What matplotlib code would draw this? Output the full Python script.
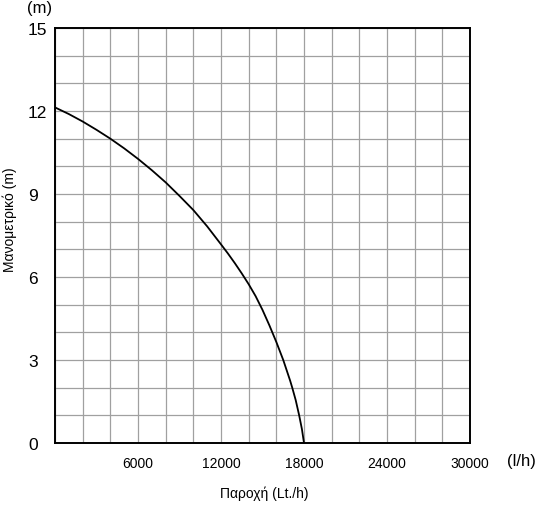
import matplotlib
matplotlib.use("Agg")
import matplotlib.pyplot as plt
import numpy as np

flow = [0, 1000, 2000, 3000, 4000, 5000, 6000, 7000, 8000, 9000, 10000, 11000, 12000,
        12500, 13000, 13500, 14000, 14500, 15000, 15500, 16000, 16500, 17000, 17150,
        17400, 17650, 17850, 18000]
head = [12.13, 11.89, 11.62, 11.32, 11.0, 10.65, 10.27, 9.86, 9.42, 8.93, 8.42, 7.83, 7.18,
        6.85, 6.50, 6.13, 5.74, 5.31, 4.81, 4.25, 3.65, 3.0, 2.25, 2.0,
        1.55, 1.0, 0.5, 0.0]
xticks = [6000, 12000, 18000, 24000, 30000]
yticks = [0, 3, 6, 9, 12, 15]

plt.rcParams['font.family'] = ['Liberation Sans', 'DejaVu Sans']

fig = plt.figure(figsize=(5.4, 5.06), dpi=100)
ax = fig.add_axes([55/540, 1-444/506, 415/540, 415/506])

ax.plot(flow, head, color='black', lw=1.3, solid_joinstyle='round')

ax.set_xlim(0, 30000)
ax.set_ylim(0, 15)
ax.set_xticks(np.arange(0, 30001, 2000), minor=True)
ax.set_yticks(np.arange(0, 16, 1), minor=True)
ax.grid(which='both', color='#a0a0a0', lw=0.9)
ax.set_xticks(xticks)
ax.set_yticks(yticks)
ax.tick_params(which='both', length=0)
ax.tick_params(axis='x', labelsize=10, pad=9.4)
ax.tick_params(axis='y', labelsize=12.5, pad=19.5)
for lbl in ax.get_yticklabels():
    lbl.set_horizontalalignment('left')
for s in ax.spines.values():
    s.set_linewidth(1.4)
    s.set_color('black')
ax.set_axisbelow(True)

fig.text(264/540, 1-494/506, 'Παροχή (Lt./h)', fontsize=10, ha='center', va='center')
fig.text(10/540, 1-220/506, 'Μανομετρικό (m)', fontsize=10, ha='center', va='center', rotation=90)
fig.text(521/540, 1-462/506, '(l/h)', fontsize=12, ha='center', va='center')
fig.text(40/540, 1-8/506, '(m)', fontsize=12, ha='center', va='center')

fig.savefig('out.png', dpi=100)
